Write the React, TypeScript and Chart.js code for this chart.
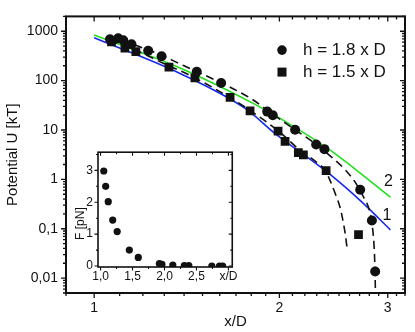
import React, { useEffect, useRef } from 'react';
import { Chart, registerables } from 'chart.js';

Chart.register(...registerables);

const FONT = '"Liberation Sans", Arial, Helvetica, sans-serif';
const INK = '#111111';

// ---- data ----
const seriesLabels = ['h = 1.8 x D', 'h = 1.5 x D'];
const curveLabels = ['2', '1'];

// measured potential, h = 1.8 x D (circles)
const circleX = [1.061, 1.094, 1.115, 1.15, 1.224, 1.287, 1.468, 1.608, 1.911, 1.951, 2.121, 2.295, 2.367, 2.706, 2.827, 2.862];
const circleU = [688, 720, 657, 547, 403, 311, 151, 89.7, 23.6, 19.9, 10.1, 5.09, 4.1, 0.617, 0.147, 0.0136];

// measured potential, h = 1.5 x D (squares)
const squareX = [1.067, 1.122, 1.169, 1.323, 1.458, 1.663, 1.792, 1.99, 2.043, 2.147, 2.188, 2.382, 2.689];
const squareU = [608, 456, 385, 188, 114, 45.9, 24.3, 9.5, 5.9, 3.48, 3.12, 1.51, 0.076];

// dashed fits through the measured points
const fitCircleX = [1.06, 1.15, 1.25, 1.4, 1.6, 1.8, 1.95, 2.1, 2.3, 2.45, 2.56, 2.66, 2.74, 2.8, 2.83, 2.85, 2.86, 2.865];
const fitCircleU = [740, 550, 380, 200, 93, 43, 21, 11, 5.0, 2.6, 1.55, 0.85, 0.44, 0.24, 0.12, 0.045, 0.015, 0.005];
const fitSquareX = [1.06, 1.15, 1.3, 1.45, 1.65, 1.8, 2.0, 2.15, 2.3, 2.38, 2.42, 2.47, 2.51, 2.54, 2.56, 2.58];
const fitSquareU = [640, 450, 220, 118, 48, 24, 9.2, 4.1, 2.2, 1.45, 0.92, 0.48, 0.27, 0.135, 0.075, 0.035];

// model curves 2 (green) and 1 (blue)
const curve2X = [1.0, 1.379, 1.826, 2.005, 2.418, 3.03];
const curve2U = [836, 180, 33, 17.2, 3.92, 0.435];
const curve1X = [1.0, 1.379, 1.769, 1.955, 2.418, 2.724, 3.03];
const curve1U = [740, 140, 26.2, 9.07, 1.26, 0.346, 0.095];

// axis tick labels
const xTickValues = [1, 2, 3];
const xTickLabels = ['1', '2', '3'];
const yTickValues = [0.01, 0.1, 1, 10, 100, 1000];
const yTickLabels = ['0,01', '0,1', '1', '10', '100', '1000'];

// inset: force F vs x/D
const insetX = [1.05, 1.08, 1.12, 1.19, 1.26, 1.45, 1.59, 1.92, 1.96, 2.13, 2.31, 2.38, 2.74, 2.86, 2.91];
const insetF = [2.98, 2.5, 2.02, 1.44, 1.08, 0.5, 0.27, 0.08, 0.05, 0.03, 0.01, 0.01, 0.0, 0.0, 0.0];
const insetXTickValues = [1.0, 1.5, 2.0, 2.5, 3.0];
const insetXTickLabels = ['1,0', '1,5', '2,0', '2,5', 'x/D'];
const insetYTickValues = [0, 1, 2, 3];
const insetYTickLabels = ['0', '1', '2', '3'];

// ---- helpers ----
const pts = (xs: number[], ys: number[]) => xs.map((x, i) => ({ x, y: ys[i] }));

function labelFor(v: number, values: number[], labels: string[]) {
  for (let i = 0; i < values.length; i++) {
    if (Math.abs(values[i] - v) < 1e-9 * Math.max(1, Math.abs(v))) return labels[i];
  }
  return '';
}

function logTicks(min: number, max: number) {
  const out: { value: number }[] = [];
  for (let e = -3; e <= 3; e++) {
    for (let m = 1; m <= 9; m++) {
      const v = Number((m * Math.pow(10, e)).toPrecision(3));
      if (v >= min * (1 - 1e-9) && v <= max * (1 + 1e-9)) out.push({ value: v });
    }
  }
  return out;
}

function framePlugin(cfg: { frame: number; major: number; minor: number; tickW: number }) {
  return {
    id: 'frameTicks',
    afterDraw(chart: any) {
      const { ctx, chartArea: a, scales } = chart;
      const xs = scales.x;
      const ys = scales.y;
      ctx.save();
      ctx.strokeStyle = INK;
      ctx.lineWidth = cfg.tickW;
      ctx.beginPath();
      for (const t of xs.ticks) {
        const p = xs.getPixelForValue(t.value);
        if (p < a.left - 0.5 || p > a.right + 0.5) continue;
        const len = t.label !== '' ? cfg.major : cfg.minor;
        ctx.moveTo(p, a.bottom);
        ctx.lineTo(p, a.bottom + len);
        ctx.moveTo(p, a.top);
        ctx.lineTo(p, a.top + len);
      }
      for (const t of ys.ticks) {
        const p = ys.getPixelForValue(t.value);
        if (p < a.top - 0.5 || p > a.bottom + 0.5) continue;
        const len = t.label !== '' ? cfg.major : cfg.minor;
        ctx.moveTo(a.left - len, p);
        ctx.lineTo(a.left, p);
        ctx.moveTo(a.right - len, p);
        ctx.lineTo(a.right, p);
      }
      ctx.stroke();
      ctx.lineWidth = cfg.frame;
      ctx.strokeRect(a.left, a.top, a.right - a.left, a.bottom - a.top);
      ctx.restore();
    },
  };
}

const mainDecor = {
  id: 'mainDecor',
  afterDraw(chart: any) {
    const { ctx, chartArea: a, scales } = chart;
    ctx.save();
    ctx.fillStyle = INK;
    ctx.textBaseline = 'middle';
    ctx.textAlign = 'left';
    ctx.font = `17px ${FONT}`;
    // legend
    const mx = a.right - 123;
    const tx = a.right - 102;
    const r1 = a.top + 33.7;
    const r2 = a.top + 55.7;
    ctx.beginPath();
    ctx.arc(mx, r1, 4.8, 0, Math.PI * 2);
    ctx.fill();
    ctx.fillText(seriesLabels[0], tx, r1);
    ctx.fillRect(mx - 4.5, r2 - 4.5, 9, 9);
    ctx.fillText(seriesLabels[1], tx, r2);
    // curve labels
    ctx.font = `16px ${FONT}`;
    ctx.textAlign = 'center';
    ctx.fillText(curveLabels[0], scales.x.getPixelForValue(3.009), scales.y.getPixelForValue(0.888));
    ctx.fillText(curveLabels[1], scales.x.getPixelForValue(2.991), scales.y.getPixelForValue(0.189));
    ctx.restore();
  },
};

const insetDecor = {
  id: 'insetDecor',
  afterDraw(chart: any) {
    const { ctx, chartArea: a } = chart;
    ctx.save();
    ctx.fillStyle = INK;
    ctx.font = `12px ${FONT}`;
    ctx.textAlign = 'center';
    ctx.textBaseline = 'middle';
    ctx.translate(a.left - 17.3, (a.top + a.bottom) / 2 + 14);
    ctx.rotate(-Math.PI / 2);
    ctx.fillText('F [pN]', 0, 0);
    ctx.restore();
  },
};

export default function App() {
  const mainRef = useRef<HTMLCanvasElement>(null);
  const insetRef = useRef<HTMLCanvasElement>(null);

  useEffect(() => {
    const tickFont = { family: FONT, size: 14 };
    const main = new Chart(mainRef.current as HTMLCanvasElement, {
      type: 'scatter',
      data: {
        datasets: [
          {
            label: seriesLabels[0],
            data: pts(circleX, circleU),
            pointStyle: 'circle',
            pointRadius: 5,
            backgroundColor: INK,
            borderColor: INK,
            borderWidth: 0,
          },
          {
            label: seriesLabels[1],
            data: pts(squareX, squareU),
            pointStyle: 'rect',
            pointRadius: 6.2,
            backgroundColor: INK,
            borderColor: INK,
            borderWidth: 0,
          },
          {
            label: 'fit h = 1.8 x D',
            data: pts(fitCircleX, fitCircleU),
            showLine: true,
            pointRadius: 0,
            borderColor: INK,
            borderWidth: 1.6,
            borderDash: [8, 5],
            cubicInterpolationMode: 'monotone',
          },
          {
            label: 'fit h = 1.5 x D',
            data: pts(fitSquareX, fitSquareU),
            showLine: true,
            pointRadius: 0,
            borderColor: INK,
            borderWidth: 1.6,
            borderDash: [8, 5],
            cubicInterpolationMode: 'monotone',
          },
          {
            label: curveLabels[0],
            data: pts(curve2X, curve2U),
            showLine: true,
            pointRadius: 0,
            borderColor: '#22e01c',
            borderWidth: 1.6,
            cubicInterpolationMode: 'monotone',
          },
          {
            label: curveLabels[1],
            data: pts(curve1X, curve1U),
            showLine: true,
            pointRadius: 0,
            borderColor: '#1428f0',
            borderWidth: 1.6,
            cubicInterpolationMode: 'monotone',
          },
        ],
      } as any,
      options: {
        responsive: false,
        animation: false,
        devicePixelRatio: 1,
        events: [],
        layout: { padding: { left: 0, top: 10, right: 10, bottom: 0 } },
        plugins: { legend: { display: false }, tooltip: { enabled: false } },
        scales: {
          x: {
            type: 'logarithmic',
            position: 'bottom',
            min: 0.9,
            max: 3.2,
            grid: { display: false, drawTicks: false },
            border: { display: false },
            ticks: {
              autoSkip: false,
              maxRotation: 0,
              font: tickFont,
              color: INK,
              padding: 7,
              callback: (v: any) => labelFor(Number(v), xTickValues, xTickLabels),
            },
            afterBuildTicks: (s: any) => {
              const t: { value: number }[] = [];
              for (let i = 9; i <= 32; i++) t.push({ value: i / 10 });
              s.ticks = t;
            },
            afterFit: (s: any) => {
              s.height = 39;
            },
            title: {
              display: true,
              text: 'x/D',
              color: INK,
              font: { family: FONT, size: 15 },
              padding: { top: 0, bottom: 1.3 },
            },
          },
          y: {
            type: 'logarithmic',
            position: 'left',
            min: 0.005,
            max: 2000,
            grid: { display: false, drawTicks: false },
            border: { display: false },
            ticks: {
              autoSkip: false,
              font: tickFont,
              color: INK,
              padding: 8,
              callback: (v: any) => labelFor(Number(v), yTickValues, yTickLabels),
            },
            afterBuildTicks: (s: any) => {
              s.ticks = logTicks(0.005, 2000);
            },
            afterFit: (s: any) => {
              s.width = 66;
            },
            title: {
              display: true,
              text: 'Potential U [kT]',
              color: INK,
              font: { family: FONT, size: 15 },
              padding: { top: 3.5, bottom: 0 },
            },
          },
        },
      } as any,
      plugins: [framePlugin({ frame: 2, major: 5, minor: 3, tickW: 1.3 }), mainDecor],
    });

    const insetFont = { family: FONT, size: 12 };
    const inset = new Chart(insetRef.current as HTMLCanvasElement, {
      type: 'scatter',
      data: {
        datasets: [
          {
            label: 'F',
            data: pts(insetX, insetF),
            pointStyle: 'circle',
            pointRadius: 3.6,
            backgroundColor: INK,
            borderColor: INK,
            borderWidth: 0,
          },
        ],
      } as any,
      options: {
        responsive: false,
        animation: false,
        devicePixelRatio: 1,
        events: [],
        layout: { padding: { left: 0, top: 9, right: 6, bottom: 0 } },
        plugins: { legend: { display: false }, tooltip: { enabled: false } },
        scales: {
          x: {
            type: 'linear',
            min: 0.96,
            max: 3.06,
            grid: { display: false, drawTicks: false },
            border: { display: false },
            ticks: {
              autoSkip: false,
              maxRotation: 0,
              font: insetFont,
              color: INK,
              padding: 2.4,
              callback: (v: any) => labelFor(Number(v), insetXTickValues, insetXTickLabels),
            },
            afterBuildTicks: (s: any) => {
              const t: { value: number }[] = [];
              for (let i = 4; i <= 12; i++) t.push({ value: i / 4 });
              s.ticks = t;
            },
            afterFit: (s: any) => {
              s.height = 18;
            },
          },
          y: {
            type: 'linear',
            min: -0.03,
            max: 3.57,
            grid: { display: false, drawTicks: false },
            border: { display: false },
            ticks: {
              autoSkip: false,
              font: insetFont,
              color: INK,
              padding: 5,
              callback: (v: any) => labelFor(Number(v), insetYTickValues, insetYTickLabels),
            },
            afterBuildTicks: (s: any) => {
              const t: { value: number }[] = [];
              for (let i = 0; i <= 7; i++) t.push({ value: i / 2 });
              s.ticks = t;
            },
            afterFit: (s: any) => {
              s.width = 38;
            },
          },
        },
      } as any,
      plugins: [framePlugin({ frame: 1.6, major: 3.5, minor: 2, tickW: 1.1 }), insetDecor],
    });

    return () => {
      main.destroy();
      inset.destroy();
    };
  }, []);

  return (
    <div style={{ position: 'fixed', left: 0, top: 0, width: 415, height: 332, background: '#ffffff' }}>
      <canvas
        ref={mainRef}
        width={415}
        height={332}
        style={{ position: 'absolute', left: 0, top: 0, width: 415, height: 332 }}
      />
      <canvas
        ref={insetRef}
        width={180}
        height={145}
        style={{ position: 'absolute', left: 60, top: 140, width: 180, height: 145 }}
      />
    </div>
  );
}
